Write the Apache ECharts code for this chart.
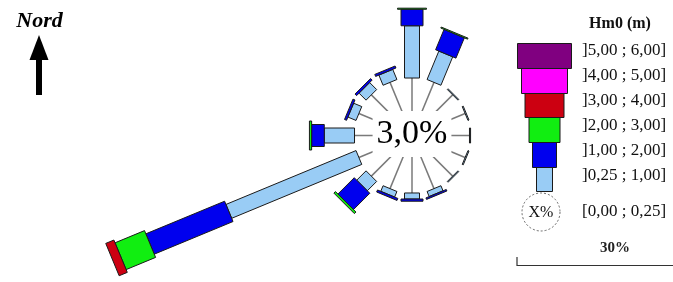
<!DOCTYPE html>
<html>
<head>
<meta charset="utf-8">
<script src="https://cdn.jsdelivr.net/npm/echarts@6/dist/echarts.min.js"></script>
<style>
html, body { margin: 0; padding: 0; background: #fff; }
#main { width: 673px; height: 282px; }
</style>
</head>
<body>
<div id="main"></div>
<script>
// directions, clockwise from North
var directions = ['N', 'NNE', 'NE', 'ENE', 'E', 'ESE', 'SE', 'SSE', 'S', 'SSW', 'SW', 'WSW', 'W', 'WNW', 'NW', 'NNW'];
// frequency (%) per Hm0 class and direction
var hm025_100 = [9.5, 5.6, 0.2, 0.2, 0.2, 0.2, 0.2, 1.0, 1.1, 1.1, 2.4, 25.6, 5.5, 1.6, 1.8, 2.0];
var hm100_200 = [3.0, 4.0, 0, 0, 0, 0, 0, 0.3, 0.4, 0.4, 4.2, 15.5, 2.3, 0.4, 0.4, 0.4];
var hm200_300 = [0.2, 0.2, 0, 0, 0, 0, 0, 0, 0, 0, 0.4, 5.8, 0.4, 0, 0, 0];
var hm300_400 = [0, 0, 0, 0, 0, 0, 0, 0, 0, 0, 0, 1.6, 0, 0, 0, 0];
var hm400_500 = [0, 0, 0, 0, 0, 0, 0, 0, 0, 0, 0, 0, 0, 0, 0, 0];
var hm500_600 = [0, 0, 0, 0, 0, 0, 0, 0, 0, 0, 0, 0, 0, 0, 0, 0];
var calmPct = 3.0;
var classLabels = [']0,25 ; 1,00]', ']1,00 ; 2,00]', ']2,00 ; 3,00]', ']3,00 ; 4,00]', ']4,00 ; 5,00]', ']5,00 ; 6,00]'];
var calmLabel = '[0,00 ; 0,25]';
var scalePct = 30;

var classes = [hm025_100, hm100_200, hm200_300, hm300_400, hm400_500, hm500_600];
var colors = ['#99ccf5', '#0000ee', '#11ee11', '#cc0011', '#ff00ff', '#800080'];
var barWidths = [15, 22, 29, 35, 42, 49];
var legendWidths = [16, 24, 31, 39, 46, 54];
var CALM_R = 10.45; // radius of the calm circle, in % units
var serif = '"Liberation Serif", "DejaVu Serif", serif';

var myChart = echarts.init(document.getElementById('main'));

function dirVec(i) {
	var a = i * 22.5 * Math.PI / 180;
	return [Math.sin(a), Math.cos(a)];
}

function renderSpoke(params, api) {
	var d = dirVec(api.value(0));
	var p0 = api.coord([0, 0]);
	var p1 = api.coord([CALM_R * d[0], CALM_R * d[1]]);
	return {
		type : 'line',
		shape : { x1 : p0[0], y1 : p0[1], x2 : p1[0], y2 : p1[1] },
		style : { stroke : '#7a7a7a', lineWidth : 1.5 }
	};
}

function renderBar(params, api) {
	var i = api.value(0);
	var d = dirVec(i);
	var r = CALM_R;
	var children = [];
	for (var k = 0; k < classes.length; k++) {
		var v = classes[k][i];
		if (!v) continue;
		var a = api.coord([r * d[0], r * d[1]]);
		var b = api.coord([(r + v) * d[0], (r + v) * d[1]]);
		var h = barWidths[k] / 2;
		var px = d[1] * h, py = d[0] * h; // perpendicular in pixel space
		children.push({
			type : 'polygon',
			shape : { points : [[a[0] + px, a[1] + py], [b[0] + px, b[1] + py], [b[0] - px, b[1] - py], [a[0] - px, a[1] - py]] },
			style : { fill : colors[k], stroke : '#1a1a1a', lineWidth : 1 }
		});
		r += v;
	}
	return { type : 'group', children : children };
}

var dirData = directions.map(function(name, i) { return [i]; });

// legend drawing
var graphics = [];
var rowTops = [167, 142, 117, 93, 68, 43];
var rowHeights = [24, 25, 25, 24, 25, 25];
var labelYs = [176, 151, 126, 101, 76, 51];
for (var k = 0; k < classes.length; k++) {
	graphics.push({
		type : 'rect', left : 544 - legendWidths[k] / 2, top : rowTops[k],
		shape : { width : legendWidths[k], height : rowHeights[k] },
		style : { fill : colors[k], stroke : '#1a1a1a', lineWidth : 1 }
	});
	graphics.push({
		type : 'text', x : 582, y : labelYs[k],
		style : { text : classLabels[k], font : '17px ' + serif, fill : '#111', verticalAlign : 'middle' }
	});
}
graphics.push(
	{ type : 'text', x : 620, y : 24, style : { text : 'Hm0 (m)', font : 'bold 16px ' + serif, fill : '#111', align : 'center', verticalAlign : 'middle' } },
	{ type : 'circle', shape : { cx : 541, cy : 212, r : 19 }, style : { fill : '#fff', stroke : '#666', lineWidth : 1, lineDash : [2, 2] } },
	{ type : 'text', x : 541, y : 213, style : { text : 'X%', font : '16px ' + serif, fill : '#111', align : 'center', verticalAlign : 'middle' } },
	{ type : 'text', x : 582, y : 212, style : { text : calmLabel, font : '17px ' + serif, fill : '#111', verticalAlign : 'middle' } },
	{ type : 'text', x : 615, y : 248, style : { text : scalePct + '%', font : 'bold 15px ' + serif, fill : '#222', align : 'center', verticalAlign : 'middle' } },
	{ type : 'polyline', shape : { points : [[517, 257], [517, 265.5], [673, 265.5]] }, style : { stroke : '#333', lineWidth : 1.2, fill : null } },
	// north arrow
	{ type : 'text', x : 39.5, y : 21, style : { text : 'Nord', font : 'italic bold 22px ' + serif, fill : '#000', align : 'center', verticalAlign : 'middle' } },
	{ type : 'polygon', shape : { points : [[39, 35], [48.5, 60], [29.5, 60]] }, style : { fill : '#000' } },
	{ type : 'rect', shape : { x : 36, y : 58, width : 6, height : 37 }, style : { fill : '#000' } },
	// calm value in the centre
	{ type : 'text', x : 412, y : 134, z : 50, style : {
		text : calmPct.toFixed(1).replace('.', ',') + '%', font : '34px ' + serif, fill : '#000',
		align : 'center', verticalAlign : 'middle', backgroundColor : '#fff', padding : [6, 4, 6, 4]
	} }
);

var option = {
	animation : false,
	grid : { left : 82, right : 41, top : 3.5, bottom : 3.5 },
	xAxis : { type : 'value', min : -60, max : 40, show : false },
	yAxis : { type : 'value', min : -26, max : 24, show : false },
	graphic : graphics,
	series : [ {
		type : 'custom', name : 'spokes', z : 1,
		renderItem : renderSpoke, data : dirData
	}, {
		type : 'custom', name : 'Hm0', z : 100,
		renderItem : renderBar, data : dirData
	} ]
};
myChart.setOption(option);
</script>
</body>
</html>
